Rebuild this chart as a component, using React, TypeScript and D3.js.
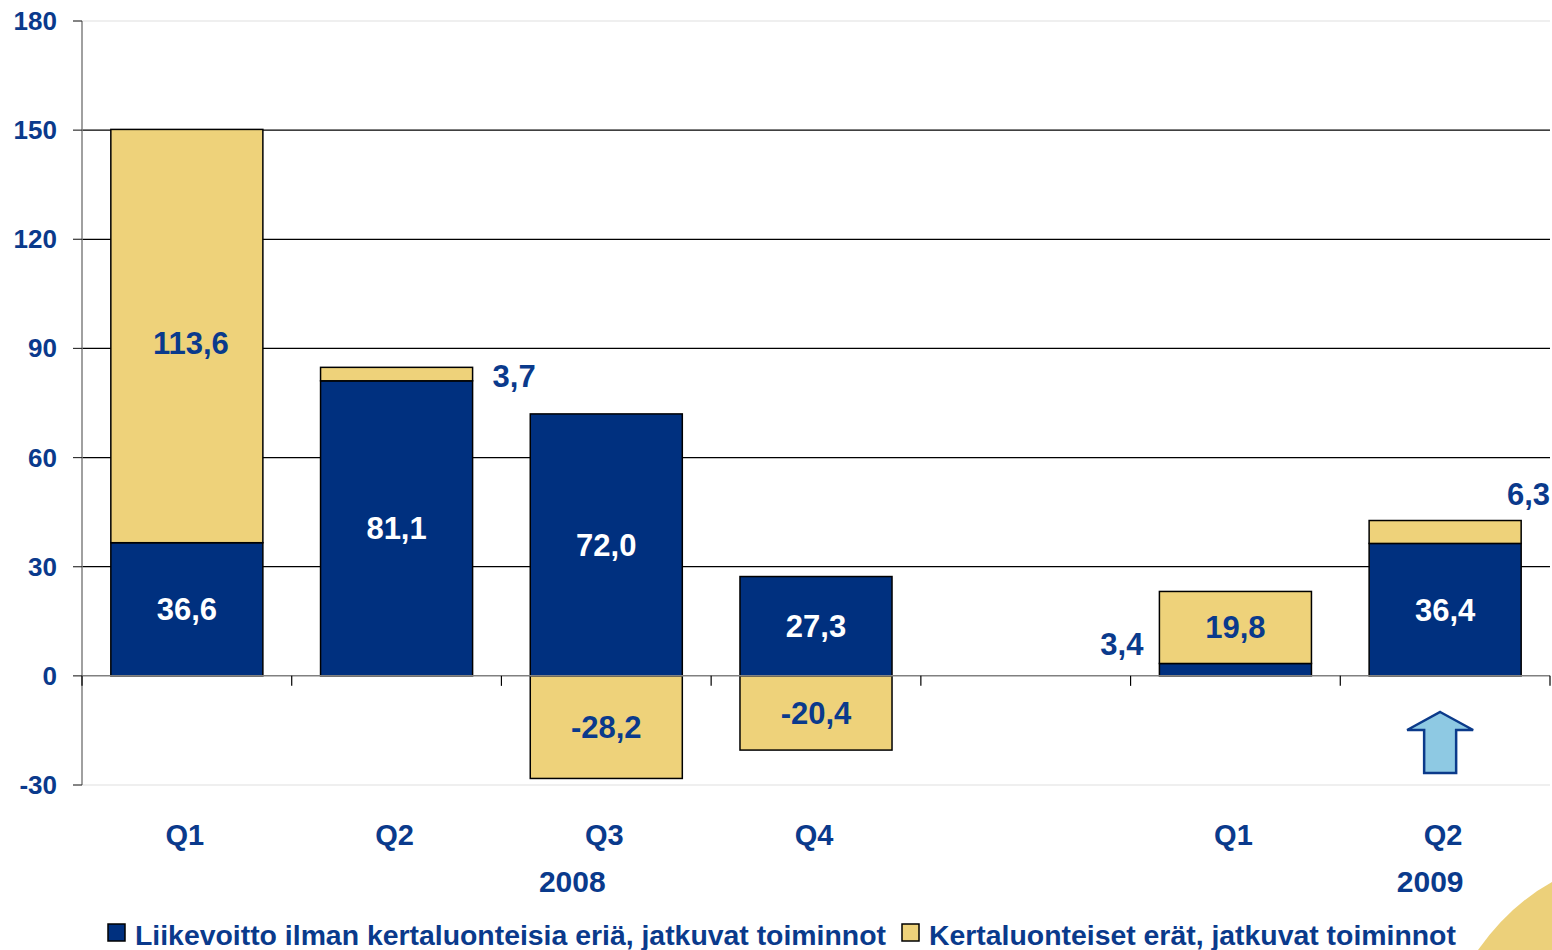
import React, { useEffect, useRef } from 'react';
import * as d3 from 'd3';

// quarters, with an empty slot between the two years
const slots = ['2008Q1', '2008Q2', '2008Q3', '2008Q4', 'gap', '2009Q1', '2009Q2'];
const quarterLabels = ['Q1', 'Q2', 'Q3', 'Q4', '', 'Q1', 'Q2'];
const operating = [36.6, 81.1, 72.0, 27.3, null, 3.4, 36.4];
const oneOff = [113.6, 3.7, -28.2, -20.4, null, 19.8, 6.3];
const yTicks = [-30, 0, 30, 60, 90, 120, 150, 180];
const legendLabels = [
  'Liikevoitto ilman kertaluonteisia eriä, jatkuvat toiminnot',
  'Kertaluonteiset erät, jatkuvat toiminnot',
];

const BLUE = '#00307f';
const YELLOW = '#eed27a';
const TEXT = '#0a3a8c';

const fmt = (v: number) => v.toFixed(1).replace('.', ',');

const App = () => {
  const ref = useRef<SVGSVGElement>(null);

  useEffect(() => {
    const width = 1552;
    const height = 950;
    const svg = d3.select(ref.current);
    svg.selectAll('*').remove();
    svg.attr('width', width).attr('height', height);
    const font = '"Liberation Sans", Arial, sans-serif';

    const x = d3.scaleBand().domain(slots).range([82, 1550]).paddingInner(0.275).paddingOuter(0.1375);
    const y = d3.scaleLinear().domain([-30, 180]).range([785, 21]);

    // decorative swoosh bottom-right
    svg.append('path')
      .attr('d', 'M1478,950 Q1510,905 1552,882 L1552,950 Z')
      .attr('fill', '#ecd07a');

    // gridlines
    svg.append('g').selectAll('line')
      .data(yTicks.filter(t => t !== 0))
      .enter().append('line')
      .attr('x1', 82).attr('x2', 1550)
      .attr('y1', d => y(d)).attr('y2', d => y(d))
      .attr('stroke', d => (d === 180 || d === -30 ? '#e0e0e0' : '#000'))
      .attr('stroke-width', 1.2);

    // y axis
    svg.append('line')
      .attr('x1', 82).attr('x2', 82).attr('y1', y(180)).attr('y2', y(-30))
      .attr('stroke', '#808080').attr('stroke-width', 1.5);
    svg.append('g').selectAll('line')
      .data(yTicks).enter().append('line')
      .attr('x1', 73).attr('x2', 82)
      .attr('y1', d => y(d)).attr('y2', d => y(d))
      .attr('stroke', '#333').attr('stroke-width', 1.2);
    svg.append('g').selectAll('text')
      .data(yTicks).enter().append('text')
      .attr('x', 57).attr('y', d => y(d) + 9)
      .attr('text-anchor', 'end')
      .attr('font-family', font).attr('font-weight', 'bold').attr('font-size', 26)
      .attr('fill', TEXT)
      .text(d => d);

    // bars
    const barGroup = svg.append('g');
    slots.forEach((s, i) => {
      const a = operating[i];
      const b = oneOff[i];
      if (a === null || b === null) return;
      const bx = x(s)!;
      const bw = x.bandwidth();
      // operating profit
      barGroup.append('rect')
        .attr('x', bx).attr('width', bw)
        .attr('y', y(Math.max(0, a))).attr('height', Math.abs(y(a) - y(0)))
        .attr('fill', BLUE).attr('stroke', '#000').attr('stroke-width', 1.5);
      // one-off items: stacked on top if positive, below zero if negative
      const b0 = b >= 0 ? a : 0;
      const b1 = b0 + b;
      barGroup.append('rect')
        .attr('x', bx).attr('width', bw)
        .attr('y', y(Math.max(b0, b1))).attr('height', Math.abs(y(b1) - y(b0)))
        .attr('fill', YELLOW).attr('stroke', '#000').attr('stroke-width', 1.5);
    });

    // zero line and x ticks
    svg.append('line')
      .attr('x1', 82).attr('x2', 1550).attr('y1', y(0)).attr('y2', y(0))
      .attr('stroke', '#808080').attr('stroke-width', 1.5);
    svg.append('g').selectAll('line')
      .data(d3.range(slots.length + 1)).enter().append('line')
      .attr('x1', d => 82 + d * x.step()).attr('x2', d => 82 + d * x.step())
      .attr('y1', y(0)).attr('y2', y(0) + 10)
      .attr('stroke', '#000').attr('stroke-width', 1.2);

    // value labels
    const label = (tx: number, ty: number, txt: string, color: string, anchor = 'middle') =>
      svg.append('text')
        .attr('x', tx).attr('y', ty)
        .attr('text-anchor', anchor)
        .attr('font-family', font).attr('font-weight', 'bold').attr('font-size', 31)
        .attr('fill', color).text(txt);

    slots.forEach((s, i) => {
      const a = operating[i];
      const b = oneOff[i];
      if (a === null || b === null) return;
      const cx = x(s)! + x.bandwidth() / 2;
      const bx = x(s)!;
      const bw = x.bandwidth();
      // operating
      if (a > 10) label(cx, y(a / 2) + 11, fmt(a), '#fff');
      else label(bx - 16, y(a) - 8, fmt(a), TEXT, 'end');
      // one-off
      const b0 = b >= 0 ? a : 0;
      const mid = b0 + b / 2;
      if (b > 60) label(cx + 4, y(mid) + 18, fmt(b), TEXT);
      else if (Math.abs(b) > 10) label(cx, y(mid) + 11, fmt(b), TEXT);
      else if (i === 1) label(bx + bw + 20, y(a + b) + 20, fmt(b), TEXT, 'start');
      else label(width - 2, y(a + b) - 16, fmt(b), TEXT, 'end');
    });

    // category labels
    svg.append('g').selectAll('text')
      .data(slots).enter().append('text')
      .attr('x', d => x(d)! + x.bandwidth() / 2 - 2)
      .attr('y', 845)
      .attr('text-anchor', 'middle')
      .attr('font-family', font).attr('font-weight', 'bold').attr('font-size', 29)
      .attr('fill', TEXT)
      .text((d, i) => quarterLabels[i]);
    const yearX = [x('2008Q3')! + x.bandwidth() / 2 - 34, x('2009Q2')! + x.bandwidth() / 2 - 15];
    ['2008', '2009'].forEach((yr, i) => {
      svg.append('text')
        .attr('x', yearX[i]).attr('y', 892)
        .attr('text-anchor', 'middle')
        .attr('font-family', font).attr('font-weight', 'bold').attr('font-size', 30)
        .attr('fill', TEXT).text(yr);
    });

    // arrow under Q2 2009
    const ax = x('2009Q2')! + x.bandwidth() / 2 - 5;
    svg.append('path')
      .attr('d', `M${ax},712 L${ax + 33},730 L${ax + 16},730 L${ax + 16},773 L${ax - 16},773 L${ax - 16},730 L${ax - 33},730 Z`)
      .attr('fill', '#8ec9e3').attr('stroke', '#0b3a8a').attr('stroke-width', 2.5);

    // legend
    const legendX = [108, 902];
    const colors = [BLUE, YELLOW];
    legendLabels.forEach((t, i) => {
      svg.append('rect')
        .attr('x', legendX[i]).attr('y', 924).attr('width', 17).attr('height', 17)
        .attr('fill', colors[i]).attr('stroke', '#000').attr('stroke-width', 1.5);
      svg.append('text')
        .attr('x', legendX[i] + 27).attr('y', 945)
        .attr('font-family', font).attr('font-weight', 'bold').attr('font-size', 28.4)
        .attr('fill', TEXT).text(t);
    });
  }, []);

  return <svg ref={ref} style={{ position: 'absolute', left: 0, top: 0 }} />;
};

export default App;
